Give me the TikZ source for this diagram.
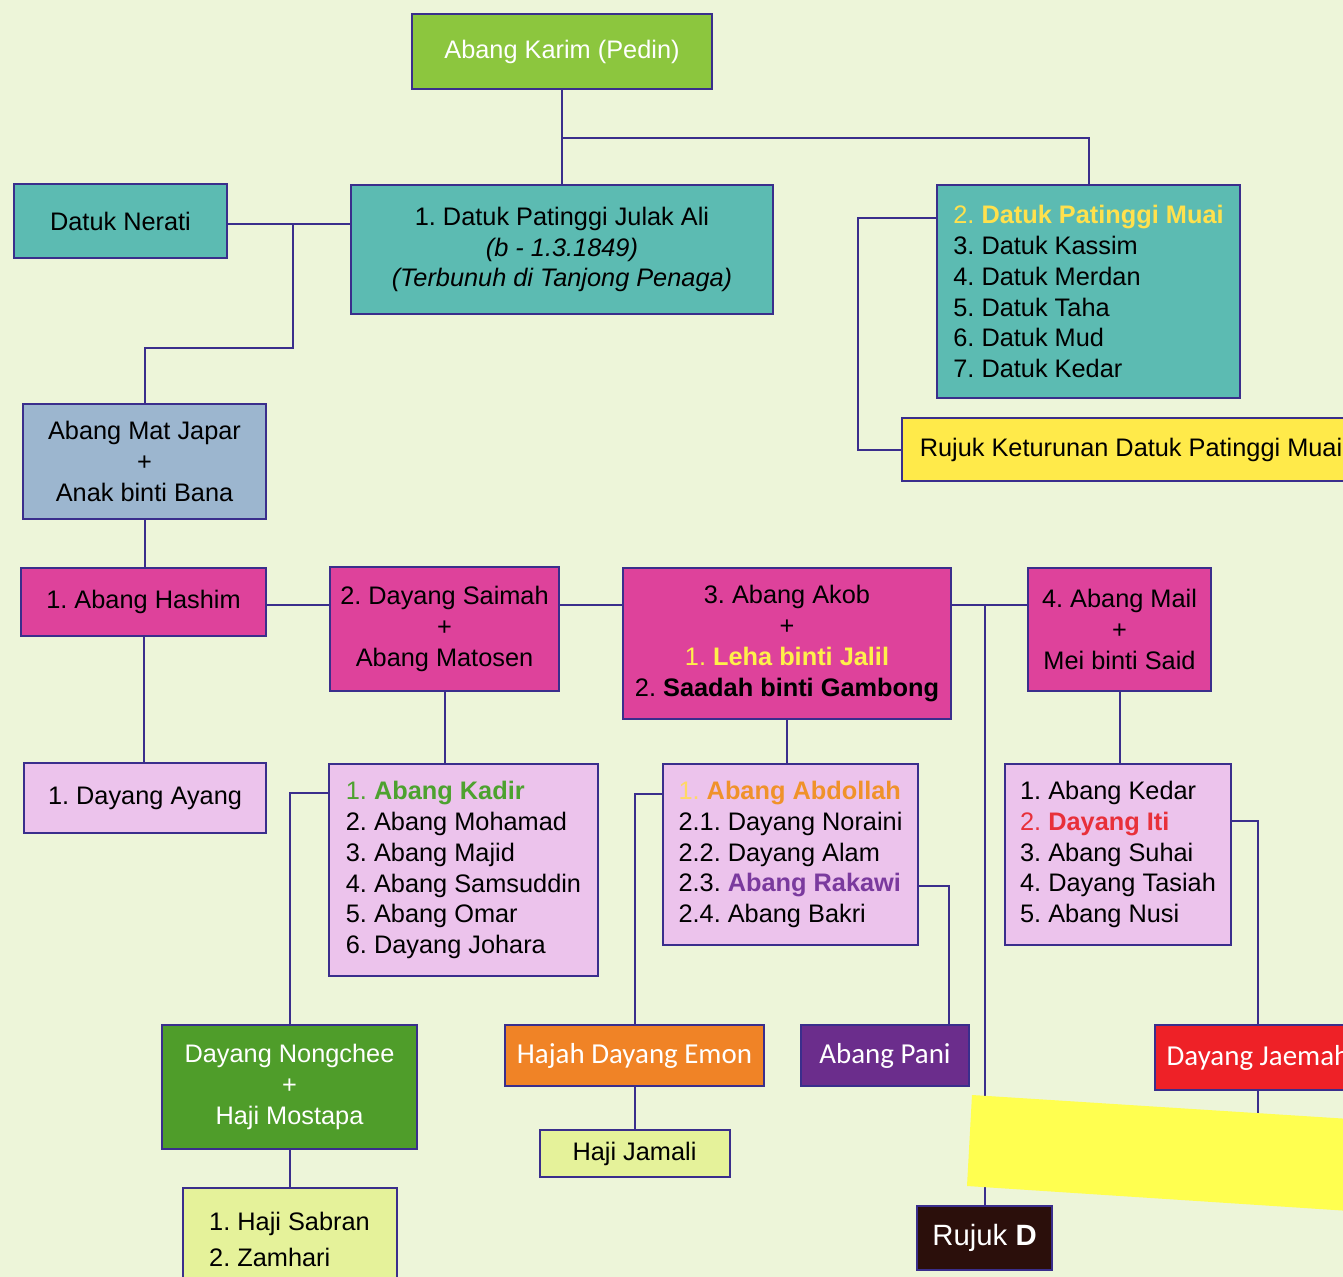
\documentclass[tikz,border=0pt]{standalone}
\usepackage{fontspec}
\setmainfont{Liberation Sans}
\newfontfamily\carlito{Carlito}
\frenchspacing
\definecolor{bgpaper}{HTML}{EDF5D9}
\definecolor{linkblue}{HTML}{3A2E8C}
\definecolor{karimgreen}{HTML}{8CC63E}
\definecolor{tealbox}{HTML}{5CBBB2}
\definecolor{muaiyellow}{HTML}{FFE14D}
\definecolor{rujukyellow}{HTML}{FFEA4A}
\definecolor{japarblue}{HTML}{9CB6CF}
\definecolor{magentabox}{HTML}{DE429B}
\definecolor{lehayellow}{HTML}{FFF04A}
\definecolor{pinkbox}{HTML}{ECC3EC}
\definecolor{kadirgreen}{HTML}{4DA22F}
\definecolor{nongcheegreen}{HTML}{4F9D2A}
\definecolor{limebox}{HTML}{E5F29A}
\definecolor{paleyellow}{HTML}{FFD866}
\definecolor{abdorange}{HTML}{F0922A}
\definecolor{rakawipurple}{HTML}{7A3A9E}
\definecolor{emonorange}{HTML}{F08326}
\definecolor{panipurple}{HTML}{6B2D8C}
\definecolor{itired}{HTML}{E8303A}
\definecolor{jaemahred}{HTML}{EE2127}
\definecolor{patchyellow}{HTML}{FFFF50}
\definecolor{rujukbrown}{HTML}{2B0F0B}

\begin{document}
\begin{tikzpicture}[x=0.75pt,y=-0.75pt]
    \tikzset{
        box/.style={draw=linkblue, line width=1.5pt, inner sep=0pt, align=center,
            font=\fontsize{19}{23.2}\selectfont},
        boxwh/.style 2 args={minimum width=#1*0.75pt, minimum height=#2*0.75pt},
        listbox/.style={box, fill=pinkbox, align=left},
        whitebox/.style={box, text=white, font=\carlito\fontsize{21.7}{26}\selectfont},
        link/.style={draw=linkblue, line width=1.5pt}
    }
    \clip (0,0) rectangle (1343,1277);
    \fill[bgpaper] (0,0) rectangle (1343,1277);
    % top generation
    \node[box, boxwh={300}{75}, fill=karimgreen, text=white] (karim) at (562,51.5) {Abang Karim (Pedin)};
    \node[box, boxwh={213}{74}, fill=tealbox] (nerati) at (120.5,221) {Datuk Nerati};
    \node[box, boxwh={422}{129}, fill=tealbox] (julak) at (562,249.5) {1. Datuk Patinggi Julak Ali\\ \textit{(b - 1.3.1849)}\\ \textit{(Terbunuh di Tanjong Penaga)}};
    \node[box, boxwh={303}{213}, fill=tealbox, align=left] (muai) at (1088.5,291.5) {\textcolor{muaiyellow}{2. \textbf{Datuk Patinggi Muai}}\\ 3. Datuk Kassim\\ 4. Datuk Merdan\\ 5. Datuk Taha\\ 6. Datuk Mud\\ 7. Datuk Kedar};
    \node[box, boxwh={458}{63}, fill=rujukyellow] (rujukk) at (1131,449.5) {Rujuk Keturunan Datuk Patinggi Muai};
    \node[box, boxwh={243}{115}, fill=japarblue] (japar) at (144.5,461.5) {Abang Mat Japar\\ +\\ Anak binti Bana};
    % children of Abang Mat Japar
    \node[box, boxwh={245}{68}, fill=magentabox] (hashim) at (143.5,602) {1. Abang Hashim};
    \node[box, boxwh={229}{124}, fill=magentabox] (saimah) at (444.5,629) {2. Dayang Saimah\\ +\\ Abang Matosen};
    \node[box, boxwh={328}{151}, fill=magentabox] (akob) at (787,643.5) {3. Abang Akob\\ +\\ \textcolor{lehayellow}{1. \textbf{Leha binti Jalil}}\\ 2. \textbf{Saadah binti Gambong}};
    \node[box, boxwh={183}{123}, fill=magentabox] (mail) at (1119.5,629.5) {4. Abang Mail\\ +\\ Mei binti Said};
    % grandchildren
    \node[box, boxwh={242}{70}, fill=pinkbox] (ayang) at (145,798) {1. Dayang Ayang};
    \node[listbox, boxwh={269}{212}] (kadir) at (463.5,870) {\textcolor{kadirgreen}{1. \textbf{Abang Kadir}}\\ 2. Abang Mohamad\\ 3. Abang Majid\\ 4. Abang Samsuddin\\ 5. Abang Omar\\ 6. Dayang Johara};
    \node[listbox, boxwh={255}{181}] (abdollah) at (790.5,854.5) {\textcolor{paleyellow}{1.} \textcolor{abdorange}{\textbf{Abang Abdollah}}\\ 2.1. Dayang Noraini\\ 2.2. Dayang Alam\\ 2.3. \textcolor{rakawipurple}{\textbf{Abang Rakawi}}\\ 2.4. Abang Bakri};
    \node[listbox, boxwh={226}{181}] (kedar) at (1118,854.5) {1. Abang Kedar\\ \textcolor{itired}{2. \textbf{Dayang Iti}}\\ 3. Abang Suhai\\ 4. Dayang Tasiah\\ 5. Abang Nusi};
    % lower rows
    \node[box, boxwh={255}{124}, fill=nongcheegreen, text=white] (nongchee) at (289.5,1087) {Dayang Nongchee\\ +\\ Haji Mostapa};
    \node[box, boxwh={214}{102}, fill=limebox, align=left, font=\fontsize{19}{27}\selectfont] (sabran) at (289.5,1239) {1. Haji Sabran\\ 2. Zamhari};
    \node[whitebox, boxwh={259}{61}, fill=emonorange] (emon) at (634.5,1055.5) {Hajah Dayang Emon};
    \node[box, boxwh={190}{47}, fill=limebox] (jamali) at (634.5,1153.5) {Haji Jamali};
    \node[whitebox, boxwh={168}{61}, fill=panipurple] (pani) at (885,1055.5) {Abang Pani};
    \node[whitebox, boxwh={206}{65}, fill=jaemahred] (jaemah) at (1258,1057.5) {Dayang Jaemah};
    \node[box, boxwh={135}{64}, fill=rujukbrown, text=white, font=\fontsize{22}{26}\selectfont] (rujukd) at (984.5,1238) {Rujuk \textbf{D}};
    % connectors
    \coordinate (kj) at (562,138);
    \coordinate (nj) at (293,224);
    \coordinate (ak) at (985,605);
    \draw[link] (karim) -- (julak);
    \draw[link] (kj) -| (muai);
    \draw[link] (nerati.east |- 0,224) -- (julak.west |- 0,224);
    \draw[link] (nj) -- (293,348) -| (japar);
    \draw[link] (muai.west |- 0,218) -- (858,218) |- (rujukk);
    \draw[link] (japar.south) -- (japar.south |- hashim.north);
    \draw[link] (hashim.east |- 0,605) -- (saimah.west |- 0,605);
    \draw[link] (saimah.east |- 0,605) -- (akob.west |- 0,605);
    \draw[link] (akob.east |- 0,605) -- (mail.west |- 0,605);
    \draw[link] (ak) -- (ak |- rujukd.north);
    \draw[link] (hashim.south) -- (hashim.south |- ayang.north);
    \draw[link] (saimah.south -| 445,0) -- (kadir.north -| 445,0);
    \draw[link] (kadir.west |- 0,793) -| (nongchee);
    \draw[link] (nongchee.south) -- (nongchee.south |- sabran.north);
    \draw[link] (akob.south) -- (akob.south |- abdollah.north);
    \draw[link] (abdollah.west |- 0,794) -| (emon);
    \draw[link] (emon.south) -- (emon.south |- jamali.north);
    \draw[link] (abdollah.east |- 0,886) -| (pani.north -| 949,0);
    \draw[link] (mail.south) -- (mail.south |- kedar.north);
    \draw[link] (kedar.east |- 0,821) -| (jaemah);
    \draw[link] (jaemah.south) -- ++(0,30);
    % yellow patch over the lines
    \fill[patchyellow] (972,1095) -- (1350,1119) -- (1350,1211) -- (967,1186) -- cycle;
\end{tikzpicture}
\end{document}
